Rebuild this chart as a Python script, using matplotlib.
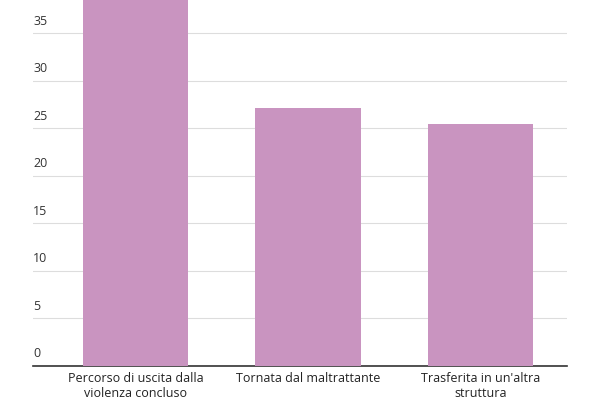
import matplotlib.pyplot as plt
import matplotlib.transforms as mtransforms

categories = ['Percorso di uscita dalla\nviolenza concluso', 'Tornata dal maltrattante', "Trasferita in un'altra\nstruttura"]
values = [47.0, 27.1, 25.5]
yticks = [0, 5, 10, 15, 20, 25, 30, 35]

plt.rcParams['font.family'] = ['Open Sans', 'DejaVu Sans']

fig = plt.figure(figsize=(6, 4), dpi=100)
ax = fig.add_axes([0.055, 0.085, 0.89, 0.915])
ax.bar(range(len(values)), values, width=0.61, color='#c994c0', zorder=3)
ax.set_xlim(-0.594, 2.5)
ax.set_ylim(0, 38.5)

ax.set_yticks(yticks)
ax.tick_params(axis='y', length=0, labelleft=False)
ax.grid(axis='y', color='#dddddd', linewidth=0.8, zorder=0)
trans = mtransforms.blended_transform_factory(ax.transAxes, ax.transData)
for t in yticks:
    ax.text(0.0, t + 0.6, str(t), transform=trans, ha='left', va='bottom', fontsize=9, color='#333333')

ax.set_xticks(range(len(categories)), categories, fontsize=9, color='#222222')
ax.tick_params(axis='x', length=0, pad=4)
for s in ['top', 'right', 'left']:
    ax.spines[s].set_visible(False)
ax.spines['bottom'].set_color('#333333')
ax.spines['bottom'].set_linewidth(1.2)

fig.savefig('out.png', dpi=100)
